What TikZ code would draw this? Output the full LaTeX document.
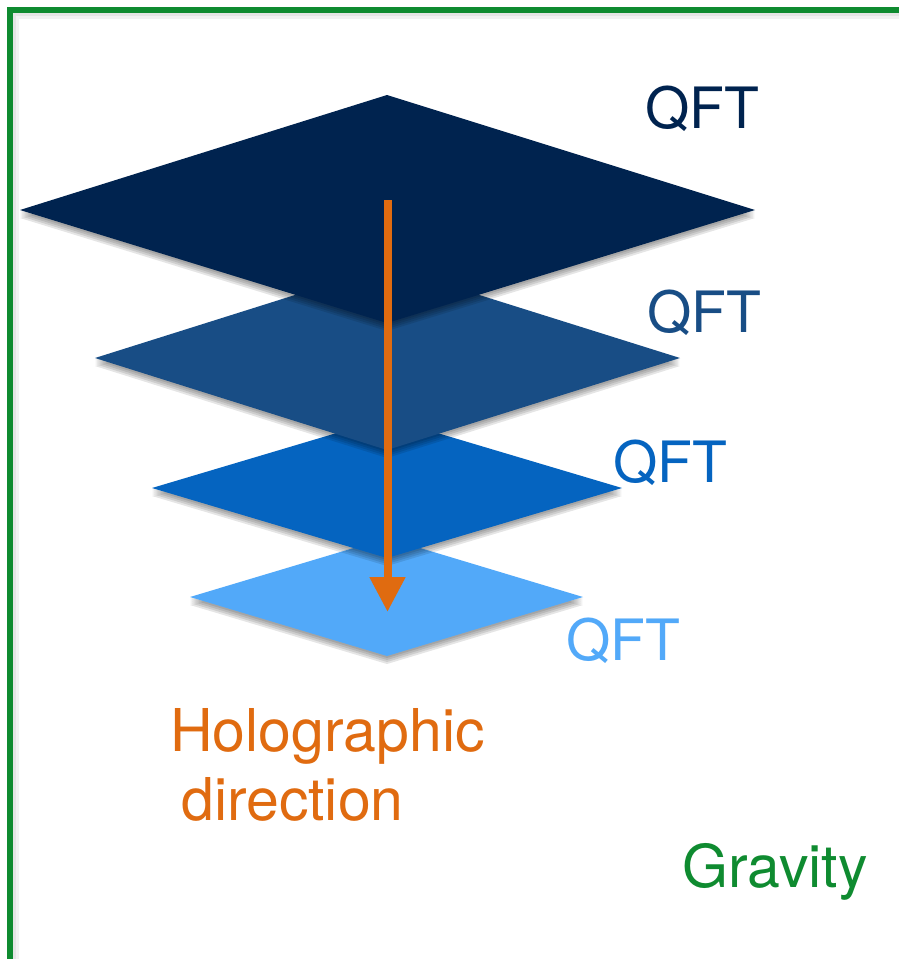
\documentclass[tikz,border=0pt]{standalone}
\usepackage{fontspec}
\setmainfont{TeX Gyre Heros}
\usetikzlibrary{arrows.meta}
\definecolor{layerA}{HTML}{00234F}
\definecolor{layerB}{HTML}{184D85}
\definecolor{layerC}{HTML}{0564C0}
\definecolor{layerD}{HTML}{52A9F9}
\definecolor{holo}{HTML}{E06B10}
\definecolor{grav}{HTML}{0F8B30}
\tikzset{
  lbl/.style={inner sep=0pt, anchor=base west, font=\fontsize{57}{64}\selectfont},
  biglbl/.style={lbl, font=\fontsize{59}{66}\selectfont},
  softshadow/.style={fill=black, opacity=0.10},
  holoarrow/.style={draw=holo, line width=8pt, -{Triangle[width=34pt,length=35pt]}},
}
\newcommand{\layerdiamond}[5]{%
  \foreach \s in {2,4,6,8}{
    \fill[softshadow] (#1,#2+\s) -- (387,#3+\s) -- (#4,#2+\s) -- (387,#5+\s) -- cycle;
  }
}
\begin{document}
\begin{tikzpicture}[x=1pt,y=-1pt]
\useasboundingbox (0,0) rectangle (899,959);
\fill[white] (0,0) rectangle (899,959);
% frame shadow and frame
\draw[black!10, line width=3pt] (14.5,959) -- (14.5,14.5) -- (899,14.5);
\draw[black!5, line width=3pt] (17,959) -- (17,17) -- (899,17);
\draw[grav, line width=5.5pt] (10,959) -- (10,10) -- (899,10);
% layer 4 (bottom)
\layerdiamond{190}{597}{538}{583}{656}
\fill[layerD] (190,597) -- (387,538) -- (583,597) -- (387,656) -- cycle;
% layer 3
\layerdiamond{152}{488}{418}{622}{558}
\fill[layerC] (152,488) -- (387,418) -- (622,488) -- (387,558) -- cycle;
% layer 2
\layerdiamond{95}{358}{266}{680}{450}
\fill[layerB] (95,358) -- (387,266) -- (680,358) -- (387,450) -- cycle;
% layer 1 (top)
\layerdiamond{20}{210}{95}{755}{323}
\fill[layerA] (20,210) -- (387,95) -- (755,210) -- (387,323) -- cycle;
% arrow
\coordinate (arrowstart) at (387.5,200);
\coordinate (arrowend) at (387.5,612);
\draw[holoarrow] (arrowstart) -- (arrowend);
% labels
\node[lbl, text=layerA] (qft1) at (645,128) {QFT};
\node[lbl, text=layerB] (qft2) at (647,332) {QFT};
\node[lbl, text=layerC] (qft3) at (613,482) {QFT};
\node[lbl, text=layerD] (qft4) at (566,660) {QFT};
\node[biglbl, text=holo] (holo1) at (170,751) {Holographic};
\node[biglbl, text=holo] (holo2) at (181,820) {direction};
\node[biglbl, text=grav] (gravity) at (682,887) {Gravity};
\end{tikzpicture}
\end{document}
